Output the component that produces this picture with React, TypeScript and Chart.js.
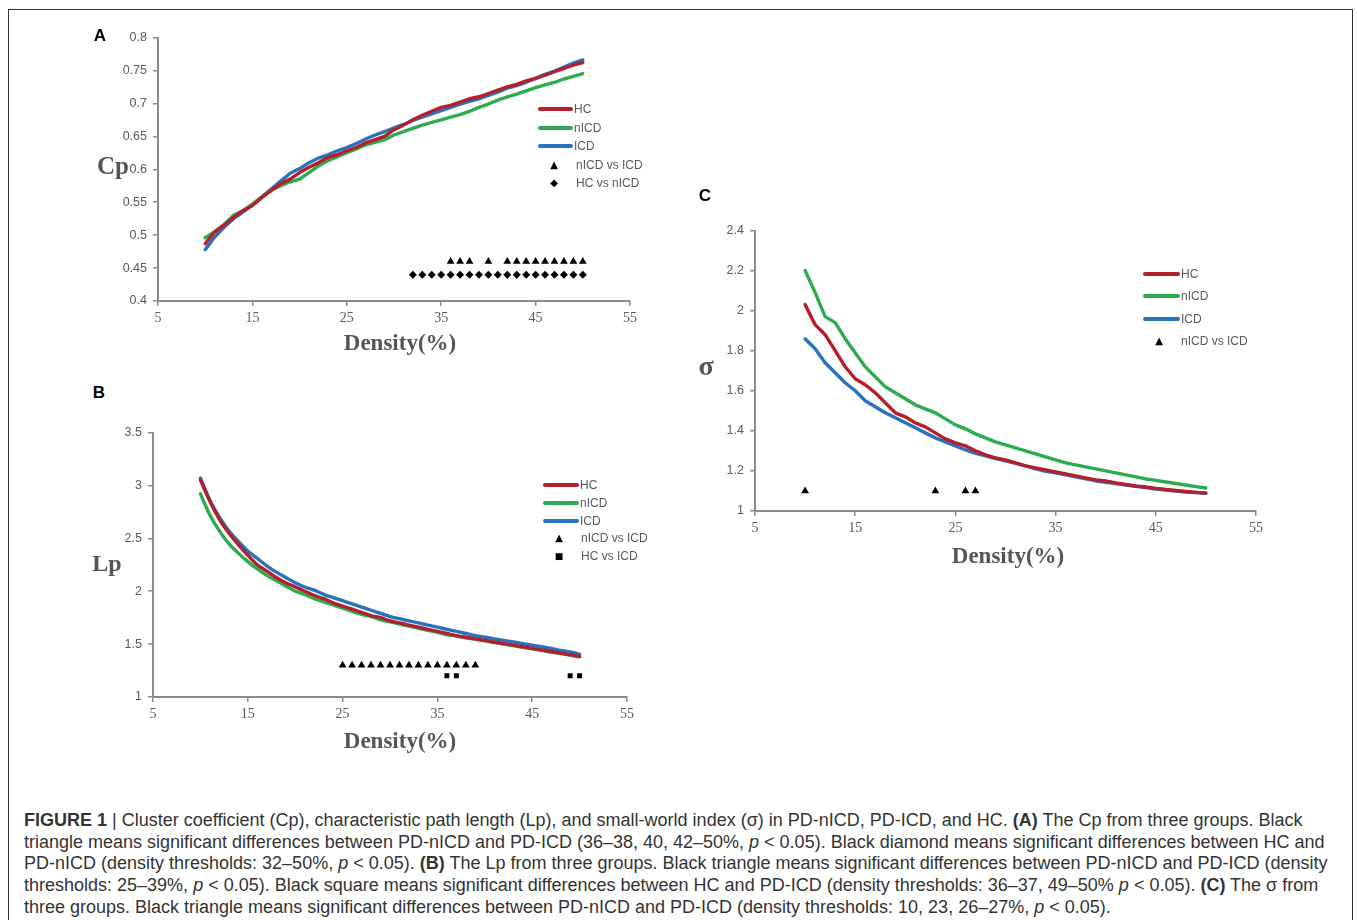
import React, { useEffect, useRef } from "react";
import { Chart, registerables } from "chart.js";

Chart.register(...registerables);

// ---------- DATA ----------
const DENSITY = [10, 11, 12, 13, 14, 15, 16, 17, 18, 19, 20, 21, 22, 23, 24, 25, 26, 27, 28, 29, 30, 31, 32, 33, 34, 35, 36, 37, 38, 39, 40, 41, 42, 43, 44, 45, 46, 47, 48, 49, 50];

const GROUPS = ["HC", "nICD", "ICD"];
const GROUP_COLORS = ["#b3202b", "#2eaa4f", "#2b72bd"];

// Panel A: clustering coefficient Cp
const CP_HC = [0.487, 0.505, 0.515, 0.527, 0.537, 0.545, 0.557, 0.568, 0.578, 0.585, 0.595, 0.603, 0.61, 0.618, 0.622, 0.628, 0.633, 0.64, 0.645, 0.65, 0.66, 0.667, 0.675, 0.682, 0.688, 0.694, 0.697, 0.702, 0.707, 0.71, 0.715, 0.72, 0.725, 0.729, 0.734, 0.738, 0.743, 0.748, 0.753, 0.758, 0.762];
const CP_NICD = [0.496, 0.505, 0.516, 0.53, 0.537, 0.547, 0.558, 0.568, 0.575, 0.581, 0.585, 0.595, 0.605, 0.613, 0.619, 0.625, 0.631, 0.637, 0.641, 0.645, 0.652, 0.657, 0.662, 0.667, 0.671, 0.675, 0.679, 0.683, 0.688, 0.694, 0.699, 0.705, 0.71, 0.714, 0.719, 0.724, 0.728, 0.732, 0.737, 0.741, 0.745];
const CP_ICD = [0.478, 0.497, 0.512, 0.525, 0.535, 0.546, 0.558, 0.57, 0.582, 0.594, 0.601, 0.61, 0.617, 0.622, 0.628, 0.633, 0.639, 0.646, 0.652, 0.657, 0.663, 0.668, 0.674, 0.679, 0.684, 0.689, 0.694, 0.699, 0.703, 0.707, 0.712, 0.717, 0.723, 0.727, 0.732, 0.738, 0.744, 0.749, 0.755, 0.761, 0.766];
const CP_TRI_X = [36, 37, 38, 40, 42, 43, 44, 45, 46, 47, 48, 49, 50];
const CP_TRI_Y = 0.46;
const CP_DIA_X = [32, 33, 34, 35, 36, 37, 38, 39, 40, 41, 42, 43, 44, 45, 46, 47, 48, 49, 50];
const CP_DIA_Y = 0.44;
const CP_TICKS = { min: 0.4, max: 0.8, step: 0.05 };

// Panel B: characteristic path length Lp
const LP_HC = [3.05, 2.85, 2.68, 2.55, 2.44, 2.34, 2.25, 2.19, 2.13, 2.08, 2.04, 2.0, 1.96, 1.93, 1.89, 1.86, 1.83, 1.8, 1.77, 1.75, 1.72, 1.7, 1.68, 1.66, 1.64, 1.62, 1.6, 1.58, 1.565, 1.55, 1.535, 1.52, 1.505, 1.49, 1.475, 1.46, 1.445, 1.43, 1.415, 1.4, 1.383];
const LP_NICD = [2.92, 2.72, 2.57, 2.45, 2.36, 2.28, 2.21, 2.15, 2.1, 2.05, 2.0, 1.97, 1.93, 1.9, 1.87, 1.84, 1.81, 1.78, 1.76, 1.73, 1.71, 1.69, 1.67, 1.65, 1.63, 1.61, 1.59, 1.575, 1.56, 1.545, 1.53, 1.515, 1.5, 1.485, 1.47, 1.455, 1.44, 1.425, 1.41, 1.395, 1.38];
const LP_ICD = [3.07, 2.86, 2.7, 2.57, 2.47, 2.38, 2.31, 2.24, 2.18, 2.13, 2.08, 2.04, 2.01, 1.97, 1.94, 1.91, 1.88, 1.85, 1.82, 1.79, 1.76, 1.74, 1.72, 1.7, 1.68, 1.66, 1.64, 1.62, 1.6, 1.58, 1.565, 1.55, 1.535, 1.52, 1.505, 1.49, 1.475, 1.46, 1.44, 1.425, 1.405];
const LP_TRI_X = [25, 26, 27, 28, 29, 30, 31, 32, 33, 34, 35, 36, 37, 38, 39];
const LP_TRI_Y = 1.3;
const LP_SQ_X = [36, 37, 49, 50];
const LP_SQ_Y = 1.2;
const LP_TICKS = { min: 1, max: 3.5, step: 0.5 };

// Panel C: small-world index sigma
const SIG_HC = [2.03, 1.93, 1.88, 1.8, 1.72, 1.66, 1.63, 1.59, 1.54, 1.49, 1.47, 1.44, 1.42, 1.39, 1.36, 1.34, 1.325, 1.3, 1.28, 1.265, 1.255, 1.24, 1.225, 1.215, 1.205, 1.195, 1.185, 1.175, 1.165, 1.155, 1.15, 1.14, 1.132, 1.125, 1.12, 1.113, 1.107, 1.102, 1.097, 1.093, 1.09];
const SIG_NICD = [2.2, 2.09, 1.97, 1.94, 1.86, 1.79, 1.72, 1.67, 1.62, 1.59, 1.56, 1.53, 1.51, 1.49, 1.46, 1.43, 1.41, 1.385, 1.365, 1.345, 1.33, 1.315, 1.3, 1.285, 1.27, 1.255, 1.24, 1.23, 1.22, 1.21, 1.2, 1.19, 1.18, 1.17, 1.16, 1.153, 1.145, 1.137, 1.13, 1.122, 1.115];
const SIG_ICD = [1.86, 1.81, 1.74, 1.69, 1.64, 1.6, 1.55, 1.52, 1.49, 1.465, 1.44, 1.415, 1.39, 1.365, 1.345, 1.325, 1.305, 1.288, 1.275, 1.262, 1.25, 1.238, 1.225, 1.21, 1.198, 1.19, 1.18, 1.17, 1.16, 1.15, 1.143, 1.137, 1.13, 1.123, 1.117, 1.11, 1.105, 1.1, 1.095, 1.092, 1.088];
const SIG_TRI_X = [10, 23, 26, 27];
const SIG_TRI_Y = 1.1;
const SIG_TICKS = { min: 1, max: 2.4, step: 0.2 };

const X_TICKS = { min: 5, max: 55, step: 10 };
const X_TITLE = "Density(%)";

// ---------- STYLE ----------
const AXIS_COLOR = "#8c8c8c";
const TEXT_GRAY = "#595959";
const SANS = "'Liberation Sans', Arial, sans-serif";
const SERIF = "'Liberation Serif', 'Times New Roman', serif";

type Area = { l: number; t: number; r: number; b: number };
type MarkerSet = { label: string; style: string; glyph: string; xs: number[]; y: number; radius: number; glyphSize: number };
type PanelProps = {
  letter: string;
  letterPos: [number, number];
  yTitle: string;
  yTitlePos: [number, number];
  yTitleSize: number;
  xTitlePos: [number, number];
  area: Area;
  ticks: { min: number; max: number; step: number };
  values: number[][];
  markers: MarkerSet[];
  tension: number;
  legendX: number;
  legendY: number;
  legendGap: number;
  legendLineW: number;
};

const Y_W = 50;
const X_H = 32;
const PAD_T = 12;
const PAD_R = 14;

function Panel(p: PanelProps) {
  const ref = useRef<HTMLCanvasElement | null>(null);
  const cl = p.area.l - Y_W;
  const ct = p.area.t - PAD_T;
  const cw = p.area.r + PAD_R - cl;
  const ch = p.area.b + X_H - ct;

  useEffect(() => {
    if (!ref.current) return;
    const lineSets = p.values.map((vals, i) => ({
      label: GROUPS[i],
      data: DENSITY.map((d, k) => ({ x: d, y: vals[k] })),
      borderColor: GROUP_COLORS[i],
      backgroundColor: GROUP_COLORS[i],
      borderWidth: 3.4,
      pointRadius: 0,
      tension: p.tension,
      fill: false,
      borderCapStyle: "round" as const,
      borderJoinStyle: "round" as const,
    }));
    const markSets = p.markers.map((m) => ({
      label: m.label,
      data: m.xs.map((x) => ({ x, y: m.y })),
      showLine: false,
      pointStyle: m.style as any,
      pointRadius: m.radius,
      pointBackgroundColor: "#000",
      pointBorderColor: "#000",
      pointBorderWidth: 0,
      borderColor: "#000",
      backgroundColor: "#000",
    }));
    const fmt = (v: any) => String(Math.round(Number(v) * 100) / 100);
    const chart = new Chart(ref.current, {
      type: "line",
      data: { datasets: [...lineSets, ...markSets] as any },
      options: {
        animation: false,
        responsive: false,
        maintainAspectRatio: false,
        devicePixelRatio: 1,
        layout: { padding: { top: PAD_T, right: PAD_R, left: 0, bottom: 0 } },
        plugins: { legend: { display: false }, tooltip: { enabled: false } },
        scales: {
          x: {
            type: "linear",
            min: X_TICKS.min,
            max: X_TICKS.max,
            ticks: { stepSize: X_TICKS.step, color: TEXT_GRAY, font: { family: SERIF, size: 14 }, padding: 4, maxRotation: 0 },
            grid: { drawOnChartArea: false, drawTicks: true, tickLength: 5, color: AXIS_COLOR, lineWidth: 1.5 },
            border: { display: true, color: AXIS_COLOR, width: 2 },
            afterFit: (s: any) => {
              s.height = X_H;
            },
          },
          y: {
            type: "linear",
            min: p.ticks.min,
            max: p.ticks.max,
            ticks: { stepSize: p.ticks.step, color: TEXT_GRAY, font: { family: SANS, size: 12.5 }, padding: 6, callback: fmt },
            grid: { drawOnChartArea: false, drawTicks: true, tickLength: 5, color: AXIS_COLOR, lineWidth: 1.5 },
            border: { display: true, color: AXIS_COLOR, width: 2 },
            afterFit: (s: any) => {
              s.width = Y_W;
            },
          },
        },
      } as any,
    });
    return () => chart.destroy();
  }, []);

  const legendRows: React.ReactNode[] = [];
  GROUPS.forEach((g, i) => {
    const y = p.legendY + i * p.legendGap;
    legendRows.push(
      <div key={"l" + i} style={{ position: "absolute", left: p.legendX, top: y - 2, width: p.legendLineW, height: 4, background: GROUP_COLORS[i], borderRadius: 2 }} />
    );
    legendRows.push(
      <div key={"t" + i} style={{ position: "absolute", left: p.legendX + p.legendLineW + 1, top: y - 8, height: 16, lineHeight: "16px", fontFamily: SANS, fontSize: 12, color: TEXT_GRAY, whiteSpace: "nowrap" }}>
        {g}
      </div>
    );
  });
  p.markers.forEach((m, j) => {
    const y = p.legendY + (GROUPS.length + j) * p.legendGap;
    legendRows.push(
      <div key={"g" + j} style={{ position: "absolute", left: p.legendX + 9, top: y - 8, width: 14, height: 16, lineHeight: "16px", textAlign: "center", fontFamily: "'DejaVu Sans', sans-serif", fontSize: m.glyphSize, color: "#000" }}>
        {m.glyph}
      </div>
    );
    legendRows.push(
      <div key={"m" + j} style={{ position: "absolute", left: p.legendX + 38, top: y - 8, height: 16, lineHeight: "16px", fontFamily: SANS, fontSize: 12, color: TEXT_GRAY, whiteSpace: "nowrap" }}>
        {m.label}
      </div>
    );
  });

  return (
    <>
      <canvas ref={ref} width={cw} height={ch} style={{ position: "absolute", left: cl, top: ct, width: cw, height: ch }} />
      <div style={{ position: "absolute", left: p.letterPos[0] - 10, top: p.letterPos[1] - 11, width: 20, textAlign: "center", fontFamily: SANS, fontWeight: 700, fontSize: 17, color: "#000", lineHeight: "22px" }}>
        {p.letter}
      </div>
      <div style={{ position: "absolute", left: p.yTitlePos[0] - 30, top: p.yTitlePos[1] - 16, width: 60, textAlign: "center", fontFamily: SERIF, fontWeight: 700, fontSize: p.yTitleSize, color: "#555", lineHeight: "32px" }}>
        {p.yTitle}
      </div>
      <div style={{ position: "absolute", left: p.xTitlePos[0] - 100, top: p.xTitlePos[1] - 16, width: 200, textAlign: "center", fontFamily: SERIF, fontWeight: 700, fontSize: 23, color: "#555", lineHeight: "32px" }}>
        {X_TITLE}
      </div>
      {legendRows}
    </>
  );
}

const CAPTION_STYLE: React.CSSProperties = {
  position: "absolute",
  left: 24,
  whiteSpace: "nowrap",
  fontFamily: SANS,
  fontSize: 18,
  color: "#333",
  lineHeight: "22px",
};

export default function App() {
  return (
    <div style={{ position: "fixed", left: 0, top: 0, width: 1357, height: 920, overflow: "hidden", background: "#fff" }}>
      <div style={{ position: "absolute", left: 8, top: 9, width: 1343, height: 1000, border: "1.5px solid #333" }} />
      <Panel
        letter="A"
        letterPos={[100, 36]}
        yTitle="Cp"
        yTitlePos={[113, 166]}
        yTitleSize={25}
        xTitlePos={[400, 343]}
        area={{ l: 158, t: 36, r: 630, b: 301 }}
        ticks={CP_TICKS}
        values={[CP_HC, CP_NICD, CP_ICD]}
        markers={[
          { label: "nICD vs ICD", style: "triangle", glyph: "▲", xs: CP_TRI_X, y: CP_TRI_Y, radius: 4.5, glyphSize: 10 },
          { label: "HC vs nICD", style: "rectRot", glyph: "◆", xs: CP_DIA_X, y: CP_DIA_Y, radius: 4, glyphSize: 10 },
        ]}
        tension={0}
        legendX={538}
        legendY={109}
        legendGap={18.5}
        legendLineW={35}
      />
      <Panel
        letter="B"
        letterPos={[99, 393]}
        yTitle="Lp"
        yTitlePos={[107, 563]}
        yTitleSize={24}
        xTitlePos={[400, 741]}
        area={{ l: 153, t: 431, r: 627, b: 697 }}
        ticks={LP_TICKS}
        values={[LP_HC, LP_NICD, LP_ICD]}
        markers={[
          { label: "nICD vs ICD", style: "triangle", glyph: "▲", xs: LP_TRI_X, y: LP_TRI_Y, radius: 4.5, glyphSize: 10 },
          { label: "HC vs ICD", style: "rect", glyph: "■", xs: LP_SQ_X, y: LP_SQ_Y, radius: 3.5, glyphSize: 9 },
        ]}
        tension={0.3}
        legendX={543}
        legendY={485}
        legendGap={17.8}
        legendLineW={36}
      />
      <Panel
        letter="C"
        letterPos={[705, 196]}
        yTitle="σ"
        yTitlePos={[706, 366]}
        yTitleSize={28}
        xTitlePos={[1008, 556]}
        area={{ l: 755, t: 229, r: 1256, b: 511 }}
        ticks={SIG_TICKS}
        values={[SIG_HC, SIG_NICD, SIG_ICD]}
        markers={[
          { label: "nICD vs ICD", style: "triangle", glyph: "▲", xs: SIG_TRI_X, y: SIG_TRI_Y, radius: 4.5, glyphSize: 10 },
        ]}
        tension={0}
        legendX={1143}
        legendY={274}
        legendGap={22.4}
        legendLineW={37}
      />
      <div style={{ ...CAPTION_STYLE, top: 809 }}>
        <b>FIGURE 1</b> <span style={{ fontWeight: 300 }}>|</span> Cluster coefficient (Cp), characteristic path length (Lp), and small-world index (σ) in PD-nICD, PD-ICD, and HC. <b>(A)</b> The Cp from three groups. Black
      </div>
      <div style={{ ...CAPTION_STYLE, top: 831 }}>
        triangle means significant differences between PD-nICD and PD-ICD (36–38, 40, 42–50%, <i>p</i> {"<"} 0.05). Black diamond means significant differences between HC and
      </div>
      <div style={{ ...CAPTION_STYLE, top: 852 }}>
        PD-nICD (density thresholds: 32–50%, <i>p</i> {"<"} 0.05). <b>(B)</b> The Lp from three groups. Black triangle means significant differences between PD-nICD and PD-ICD (density
      </div>
      <div style={{ ...CAPTION_STYLE, top: 874 }}>
        thresholds: 25–39%, <i>p</i> {"<"} 0.05). Black square means significant differences between HC and PD-ICD (density thresholds: 36–37, 49–50% <i>p</i> {"<"} 0.05). <b>(C)</b> The σ from
      </div>
      <div style={{ ...CAPTION_STYLE, top: 896 }}>
        three groups. Black triangle means significant differences between PD-nICD and PD-ICD (density thresholds: 10, 23, 26–27%, <i>p</i> {"<"} 0.05).
      </div>
    </div>
  );
}
